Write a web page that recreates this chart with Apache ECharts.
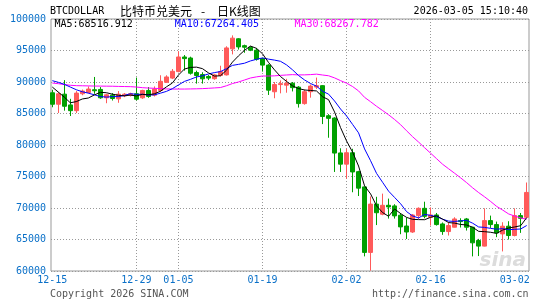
<!DOCTYPE html>
<html><head><meta charset="utf-8">
<script src="https://cdn.jsdelivr.net/npm/echarts@6/dist/echarts.min.js"></script>
<style>html,body{margin:0;padding:0;background:#fff}#c{width:545px;height:300px}</style>
</head><body><div id="c"></div>
<script>
const dates = ['12-15','12-16','12-17','12-18','12-19','12-20','12-21','12-22','12-23','12-24','12-25','12-26','12-27','12-28','12-29','12-30','12-31',
'01-01','01-02','01-03','01-04','01-05','01-06','01-07','01-08','01-09','01-10','01-11','01-12','01-13','01-14','01-15','01-16','01-17','01-18','01-19','01-20','01-21','01-22','01-23','01-24','01-25','01-26','01-27','01-28','01-29','01-30','01-31',
'02-01','02-02','02-03','02-04','02-05','02-06','02-07','02-08','02-09','02-10','02-11','02-12','02-13','02-14','02-15','02-16','02-17','02-18','02-19','02-20','02-21','02-22','02-23','02-24','02-25','02-26','02-27','02-28',
'03-01','03-02','03-03','03-04'];
const opens = [88290,86470,88070,86360,85450,88130,88340,88770,88820,87490,
87910,87330,87810,87910,88130,87490,88660,87910,88660,89950,
90620,91650,93970,93810,91500,91180,90880,90520,91030,91130,
95260,96860,95770,95520,95050,93710,92680,88450,89590,89500,
89800,89190,86570,88460,89200,89420,84650,84280,78740,76960,
78770,75770,73350,62950,70620,69010,70430,70330,68850,67140,
66190,68790,69950,68530,68900,67470,66260,66950,68000,68260,
66950,64840,63950,68000,67370,65890,67110,65630,68790,68530];
const closes = [86470,88130,86150,85450,88240,88560,88880,88610,87490,87970,
87380,88070,88070,88130,87270,88660,87700,88880,90110,90800,
91700,93970,93710,91390,91030,90510,90620,91130,91650,95410,
96960,95570,95520,95050,93610,92680,88710,89590,89740,89800,
89100,86570,88460,89350,89420,84520,84230,78720,76960,78770,
75720,73150,62950,70620,69250,70430,70170,68750,67000,66190,
68890,69950,68680,68900,67370,66260,67210,68260,67840,66950,
64470,63950,68000,67370,66050,67110,65630,68790,68370,72470];
const lows = [85990,85080,85450,84600,85080,87900,88200,88130,87330,86630,
87060,86700,87600,87700,87060,87330,87490,87700,88400,89840,
90460,91550,91800,91180,89740,89740,90300,90360,90880,91030,
94380,95150,94640,94900,93400,91650,87940,87420,88200,88300,
88500,85940,86400,87510,88900,83320,81150,75720,75720,74660,
72500,71900,62320,60050,67290,68850,68320,68320,65840,65080,
66050,68260,68370,67210,67210,65740,65630,66900,66900,66420,
62320,62370,63900,66840,65370,63110,65000,65500,66050,68400];
const highs = [88770,88400,90300,87330,88560,88800,89300,90800,89200,88130,
88240,88560,88240,88300,90700,88770,89200,89300,91070,91070,
92060,94900,94280,94020,91800,91550,91100,91300,92580,95670,
97400,96960,95930,95670,95400,93860,92830,90000,90250,90500,
90000,89350,88820,89610,90700,89500,84900,84400,79480,79400,
79400,75900,73350,71830,71780,72280,71490,70600,69200,68480,
69050,70100,71000,70100,69210,67700,67740,68530,68370,68420,
66950,65100,69950,68790,67840,67740,67900,69950,69210,74050];
// MA values before enough history is visible
const ma5Head = [89200,88400,87600,86700];
const ma10Head = [90210,89950,89630,89200,88770,88450,88230,87970,87700];
const ma30Head = [89840,89730,89600,89480,89420,89400,89380,89360,89350,89340,
89330,89300,89280,89260,89200,89100,89040,89000,88950,88900,
88880,88880,88880,88900,88920,88950,89000,89060,89120];
const labelDates = ['12-15','12-29','01-05','01-19','02-02','02-16','03-02'];
const gridDates = ['12-29','01-05','01-19','02-02','02-16'];
const yMin = 60000, yMax = 100000, yStep = 5000;
const maLabels = ['MA5:68516.912','MA10:67264.405','MA30:68267.782'];
const symbolName = 'BTCDOLLAR';
const titleCn = '比特币兑美元';
const titleK = '日K线图';
const stamp = '2026-03-05 15:10:40';
const copyright = 'Copyright 2026 SINA.COM';
const url = 'http://finance.sina.com.cn';

function ma(n, head){
  return closes.map((c,i)=>{
    if(i < n-1) return head[i];
    let s=0; for(let k=i-n+1;k<=i;k++) s+=closes[k];
    return +(s/n).toFixed(2);
  });
}
const UP='#ff5a5a', DOWN='#00a000', BLUE='#0a70c8';
const MONO='"DejaVu Sans Mono","Liberation Mono",monospace';
const chart = echarts.init(document.getElementById('c'), null, {renderer:'canvas'});
function txt(text,x,y,font,fill,align){
  return {type:'text',silent:true,z:100,style:{text:text,x:x,y:y,font:font,fill:fill,
    textAlign:align||'left',align:align||'left',textVerticalAlign:'middle',verticalAlign:'middle'}};
}
chart.setOption({
  animation:false,
  backgroundColor:'#fff',
  grid:[
    {left:51,right:16,top:19,bottom:29,show:true,borderColor:'#999',borderWidth:1,backgroundColor:'transparent'},
    {left:52.3,right:18.3,top:19,bottom:29}
  ],
  xAxis:[
    {gridIndex:0,type:'value',min:0,max:1,show:false},
    {gridIndex:1,type:'category',data:dates,boundaryGap:false,
     axisLine:{show:false},axisTick:{show:false},
     axisLabel:{interval:(i,v)=>labelDates.includes(v),color:BLUE,fontFamily:MONO,fontSize:10,margin:4},
     splitLine:{show:true,interval:(i,v)=>gridDates.includes(v),lineStyle:{color:'#999',type:[1,2],width:1}}}
  ],
  yAxis:[
    {gridIndex:0,type:'value',min:yMin,max:yMax,interval:yStep,
     axisLine:{show:false},axisTick:{show:false},
     axisLabel:{color:BLUE,fontFamily:MONO,fontSize:10,margin:5,padding:[0,0,5,0],formatter:v=>String(v)},
     splitLine:{show:true,lineStyle:{color:'#999',type:[1,2],width:1}}},
    {gridIndex:1,type:'value',min:yMin,max:yMax,show:false,splitLine:{show:false}}
  ],
  series:[
    {type:'candlestick',xAxisIndex:1,yAxisIndex:1,barWidth:4,
     data:opens.map((o,i)=>[o,closes[i],lows[i],highs[i]]),
     itemStyle:{color:UP,color0:DOWN,borderColor:UP,borderColor0:DOWN,borderWidth:1},z:2},
    {type:'line',xAxisIndex:1,yAxisIndex:1,data:ma(30,ma30Head),symbol:'none',lineStyle:{color:'#ff00ff',width:1},z:3},
    {type:'line',xAxisIndex:1,yAxisIndex:1,data:ma(10,ma10Head),symbol:'none',lineStyle:{color:'#0000ff',width:1},z:4},
    {type:'line',xAxisIndex:1,yAxisIndex:1,data:ma(5,ma5Head),symbol:'none',lineStyle:{color:'#000',width:1},z:5}
  ],
  graphic:[
    txt(symbolName,50,11.5,'10px '+MONO,'#000'),
    txt(titleCn,120,11.5,'12px "Noto Sans CJK SC"','#000'),
    txt('-',201,11.5,'12px "Noto Sans CJK SC"','#000'),
    txt(titleK,217,11.5,'12px "Noto Sans CJK SC"','#000'),
    txt(stamp,528,11.5,'10px '+MONO,'#000','right'),
    txt(maLabels[0],54.5,24.5,'10px '+MONO,'#000'),
    txt(maLabels[1],174.7,24.5,'10px '+MONO,'#0000ff'),
    txt(maLabels[2],294.4,24.5,'10px '+MONO,'#ff00ff'),
    txt(copyright,50,294,'10px '+MONO,'#555'),
    txt(url,528.5,294,'10px '+MONO,'#555','right'),
    {type:'text',silent:true,z:1,style:{text:'sina',x:526,y:261,font:'italic bold 20px "DejaVu Sans"',fill:'#dcdcdc',
      textAlign:'right',align:'right',textVerticalAlign:'middle',verticalAlign:'middle'}}
  ]
});
</script></body></html>
